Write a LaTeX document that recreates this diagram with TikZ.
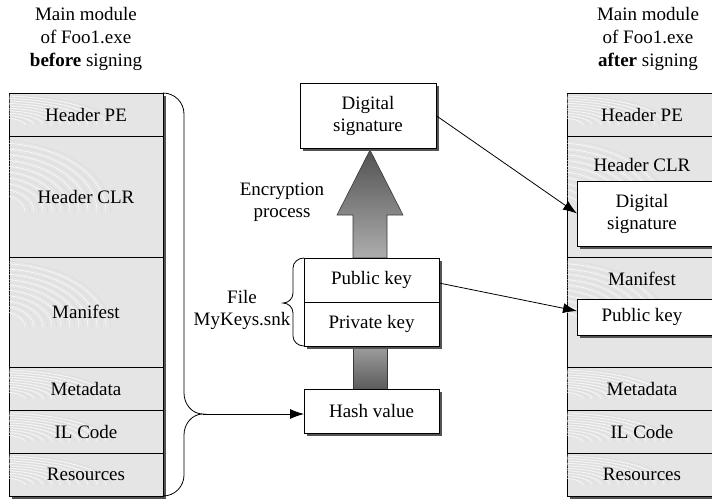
\documentclass[tikz,border=0pt]{standalone}
\usepackage{fontspec}
\setmainfont{Liberation Serif}
\usetikzlibrary{arrows.meta,calc}

\definecolor{cellgray}{gray}{0.90}
\definecolor{shadowgray}{gray}{0.33}
\definecolor{weavegray}{gray}{0.84}

% faint concentric texture in the top-left part of a section: x0, y0, height, centre depth
\newcommand\cellweave[4]{%
  \begin{scope}
    \clip (#1,#2) rectangle ++(150,#3);
    \foreach \k in {0,...,19}{%
      \pgfmathsetmacro\rx{28+4.5*\k}
      \pgfmathsetmacro\ry{\rx*#4/120}
      \pgfmathtruncatemacro\odd{mod(\k,2)}
      \ifnum\odd=0
        \draw[white, line width=0.5pt, opacity=0.9] (#1-12,#2+#4-\ry) arc[start angle=-90, end angle=0, x radius=\rx, y radius=\ry];
      \else
        \draw[weavegray, line width=0.3pt] (#1-12,#2+#4-\ry) arc[start angle=-90, end angle=0, x radius=\rx, y radius=\ry];
      \fi
    }
  \end{scope}}

\begin{document}
\begin{tikzpicture}[x=1pt,y=-1pt,
  every node/.style={font=\fontsize{19}{22}\selectfont, inner sep=0pt, outer sep=0pt},
  head/.style={font=\fontsize{19}{23}\selectfont, align=center},
  cell/.style={draw=black, line width=0.8pt, fill=cellgray, anchor=north west, align=center},
  lcell/.style={cell, minimum width=154pt},
  rcell/.style={cell, minimum width=160pt},
  box/.style={draw=black, line width=0.8pt, fill=white, anchor=north west, align=center},
  shadow/.style={fill=shadowgray, draw=none},
  link/.style={line width=0.8pt, -{Latex[length=14pt,width=10pt]}},
  brace/.style={line width=0.8pt},
  flow/.style={draw=black!78, line width=0.6pt},
]
\useasboundingbox (0,0) rectangle (712,499);

% ---------- column titles ----------
\node[head] (titleL) at (86,39) {Main module\\of Foo1.exe\\\textbf{before} signing};
\node[head] (titleR) at (648,39) {Main module\\of Foo1.exe\\\textbf{after} signing};

% ---------- unsigned module ----------
\fill[shadow] (12,96) rectangle (166,499);
\node[lcell, minimum height=43pt]  (lpe)  at (9,93)  {};
\node[lcell, minimum height=121pt] (lclr) at (9,136) {};
\node[lcell, minimum height=110pt] (lman) at (9,257) {};
\node[lcell, minimum height=43pt]  (lmeta) at (9,367) {};
\node[lcell, minimum height=43pt]  (lil)  at (9,410) {};
\node[lcell, minimum height=43pt]  (lres) at (9,453) {};
\cellweave{9}{93}{43}{32}
\cellweave{9}{136}{121}{76}
\cellweave{9}{257}{110}{70}
\cellweave{9}{367}{43}{32}
\cellweave{9}{410}{43}{32}
\cellweave{9}{453}{43}{32}
\node (lpet)   at (lpe)   {Header PE};
\node (lclrt)  at (lclr)  {Header CLR};
\node (lmant)  at (lman)  {Manifest};
\node (lmetat) at (lmeta) {Metadata};
\node (lilt)   at (lil)   {IL Code};
\node (lrest)  at (lres)  {Resources};

% brace gathering the hashed sections
\coordinate (btip) at (203,414);
\draw[brace] (lpe.north east) to[out=0,in=90] (184,114) -- (184,393)
  to[out=-90,in=180] (btip) to[out=180,in=90] (184,435) -- (184,475)
  to[out=-90,in=0] (lres.south east);

% ---------- signing process ----------
% lower shaft: hash value -> key pair
\shade[flow, top color=black!38, bottom color=black!64] (353,346) rectangle (387,389);
% upper arrow: key pair -> digital signature
\shade[flow, top color=black!68, bottom color=black!32]
  (353,258) -- (353,215) -- (337,215) -- (370,150) -- (403,215) -- (387,215) -- (387,258) -- cycle;

\fill[shadow] (303,86) rectangle (439,151);
\node[box, minimum width=136pt, minimum height=65pt] (dsig) at (300,83) {Digital\\signature};

\fill[shadow] (307,261) rectangle (442,349);
\node[box, minimum width=135pt, minimum height=44pt] (pub)  at (304,258) {Public key};
\node[box, minimum width=135pt, minimum height=44pt] (priv) at (304,302) {Private key};

\fill[shadow] (307,392) rectangle (442,436);
\node[box, minimum width=135pt, minimum height=44pt] (hash) at (304,389) {Hash value};

\node[align=center] (enc) at (282,202) {Encryption\\process};

% brace marking the key file
\draw[brace] (pub.north west) to[out=180,in=90] (293,268) -- (293,293)
  to[out=-90,in=0] (283,303) to[out=0,in=90] (293,313) -- (293,336)
  to[out=-90,in=180] (priv.south west);
\node[align=center] (keyfile) at (242,310) {File\\MyKeys.snk};

% ---------- signed module ----------
\fill[shadow] (570,96) rectangle (730,499);
\node[rcell, minimum height=43pt]  (rpe)  at (567,93)  {};
\node[rcell, minimum height=121pt] (rclr) at (567,136) {};
\node[rcell, minimum height=110pt] (rman) at (567,257) {};
\node[rcell, minimum height=43pt]  (rmeta) at (567,367) {};
\node[rcell, minimum height=43pt]  (ril)  at (567,410) {};
\node[rcell, minimum height=43pt]  (rres) at (567,453) {};
\cellweave{567}{93}{43}{32}
\cellweave{567}{136}{121}{76}
\cellweave{567}{257}{110}{70}
\cellweave{567}{367}{43}{32}
\cellweave{567}{410}{43}{32}
\cellweave{567}{453}{43}{32}
\node (rpet)   at (642,114.5) {Header PE};
\node (rclrt)  at (642,165)   {Header CLR};
\node (rmant)  at (642,279)   {Manifest};
\node (rmetat) at (642,388.5) {Metadata};
\node (rilt)   at (642,431.5) {IL Code};
\node (rrest)  at (642,474.5) {Resources};

\fill[shadow] (580,184) rectangle (730,249);
\node[box, minimum width=150pt, minimum height=65pt] (rdsig) at (577,181) {};
\node[align=center] (rdsigt) at (642,213.5) {Digital\\signature};
\fill[shadow] (580,302) rectangle (730,338);
\node[box, minimum width=150pt, minimum height=36pt] (rpub) at (577,299) {};
\node (rpubt) at (642,317) {Public key};

% ---------- connectors ----------
\draw[link] (btip) -- (hash.west |- btip);
\draw[link] (dsig.east) -- (rdsig.west);
\draw[link] ([yshift=-3pt]pub.east) -- ([yshift=6pt]rpub.west);
\end{tikzpicture}
\end{document}
